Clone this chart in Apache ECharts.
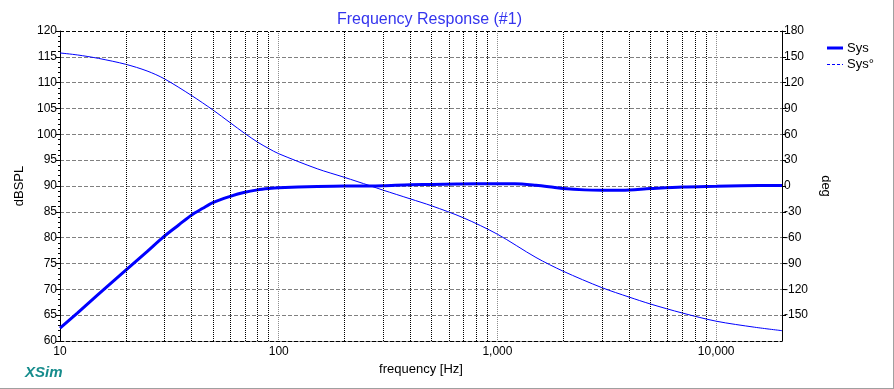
<!DOCTYPE html>
<html>
<head>
<meta charset="utf-8">
<script src="https://cdn.jsdelivr.net/npm/echarts@6/dist/echarts.min.js"></script>
<style>html,body{margin:0;padding:0;background:#fff;}#c{width:894px;height:389px;}</style>
</head>
<body>
<div id="c"></div>
<script>
// Frequencies (Hz)
var splFreq = [10, 12, 15, 20, 25, 30, 35, 40, 45, 50, 60, 70, 80, 90, 100, 150, 200, 260, 300, 400, 500, 650, 800, 1000, 1200, 1500, 1800, 2000, 2500, 3000, 3700, 5000, 7000, 10000, 13000, 20000];
// SPL (dB)
var splValues = [62.5, 65.4, 69.05, 73.7, 77.3, 80.3, 82.5, 84.4, 85.7, 86.8, 88.0, 88.8, 89.25, 89.5, 89.65, 89.9, 90.0, 90.0, 90.05, 90.25, 90.3, 90.4, 90.45, 90.45, 90.45, 90.15, 89.75, 89.5, 89.25, 89.2, 89.2, 89.5, 89.8, 89.95, 90.05, 90.1];
// Phase frequencies (Hz)
var phaseFreq = [10, 12, 15, 20, 25, 30, 40, 50, 60, 70, 80, 90, 100, 150, 200, 260, 300, 400, 500, 700, 1000, 1500, 2000, 3000, 4000, 5000, 7000, 10000, 15000, 20000];
// Phase (deg)
var phaseValues = [154.5, 152.2, 148.2, 141.3, 133.6, 124.5, 105, 88.3, 73.5, 61, 51, 43.5, 37.5, 20, 10, 0.5, -4.8, -15, -23, -37, -56, -83, -99, -118, -129, -137, -147.5, -157, -164, -168];
// Intermediate vertical grid frequencies
var gridFreq = [20, 30, 40, 50, 60, 70, 80, 90, 200, 300, 400, 500, 600, 700, 800, 900, 2000, 3000, 4000, 5000, 6000, 7000, 8000, 9000];
var xTickValues = [10, 100, 1000, 10000];
var seriesNames = ['Sys', 'Sys°'];

var FONT = '"Liberation Sans", Arial, sans-serif';
var chart = echarts.init(document.getElementById('c'));

chart.setOption({
  animation: false,
  backgroundColor: '#ffffff',
  textStyle: { fontFamily: FONT },
  title: {
    text: 'Frequency Response (#1)',
    left: 332, top: 7,
    textStyle: { color: '#3434ee', fontSize: 16, fontWeight: 'normal', fontFamily: FONT }
  },
  grid: { left: 60, right: 112, top: 31, bottom: 48, containLabel: false },
  xAxis: {
    type: 'log', logBase: 10, min: 10, max: 20000,
    name: 'frequency [Hz]', nameLocation: 'middle', nameGap: 20,
    nameTextStyle: { fontSize: 13, color: '#000', fontFamily: FONT },
    axisLine: { show: true, onZero: false, lineStyle: { color: '#000', type: 'dashed', width: 1 } },
    axisTick: { show: false },
    axisLabel: {
      fontSize: 12, color: '#000', margin: 5, showMaxLabel: false,
      formatter: function (v) { return xTickValues.indexOf(Math.round(v)) >= 0 ? Math.round(v).toLocaleString('en-US') : ''; }
    },
    splitLine: { show: true, lineStyle: { color: '#8a8a8a', type: 'dotted', width: 1 } }
  },
  yAxis: [
    {
      type: 'value', min: 60, max: 120, interval: 5, position: 'left',
      name: 'dBSPL', nameLocation: 'middle', nameGap: 28,
      nameTextStyle: { fontSize: 13, color: '#000', fontFamily: FONT },
      axisLine: { show: true, lineStyle: { color: '#000', width: 1 } },
      axisTick: { show: true, length: 4, lineStyle: { color: '#000' } },
      minorTick: { show: true, splitNumber: 5, length: 2, lineStyle: { color: '#000' } },
      axisLabel: { fontSize: 12, color: '#000', margin: 3 },
      splitLine: { show: true, lineStyle: { color: '#808080', type: 'dashed', width: 1 } }
    },
    {
      type: 'value', min: -180, max: 180, interval: 30, position: 'right',
      name: 'deg', nameLocation: 'middle', nameGap: 22, nameRotate: -90,
      nameTextStyle: { fontSize: 13, color: '#000', fontFamily: FONT },
      axisLine: { show: true, lineStyle: { color: '#000', width: 1 } },
      axisTick: { show: true, length: 4, lineStyle: { color: '#000' } },
      axisLabel: { fontSize: 12, color: '#000', margin: 2, showMinLabel: false },
      splitLine: { show: false }
    }
  ],
  series: [
    {
      name: 'grid', type: 'line', data: [], z: 1, silent: true,
      markLine: {
        silent: true, symbol: ['none', 'none'], animation: false,
        label: { show: false },
        lineStyle: { color: '#000', type: 'dotted', width: 1 },
        emphasis: { disabled: true },
        data: gridFreq.map(function (f) { return { xAxis: f }; }).concat([
          { yAxis: 120, lineStyle: { color: '#000', type: 'dashed', width: 1 } }
        ])
      }
    },
    {
      name: seriesNames[0], type: 'line', yAxisIndex: 0, symbol: 'none', smooth: 0.3, z: 3,
      lineStyle: { color: '#0000ff', width: 3 }, itemStyle: { color: '#0000ff' },
      data: splFreq.map(function (f, i) { return [f, splValues[i]]; })
    },
    {
      name: seriesNames[1], type: 'line', yAxisIndex: 1, symbol: 'none', smooth: 0.3, z: 3,
      lineStyle: { color: '#0000ff', width: 1 }, itemStyle: { color: '#0000ff' },
      data: phaseFreq.map(function (f, i) { return [f, phaseValues[i]]; })
    }
  ],
  graphic: [
    { type: 'text', left: 25, top: 365, style: { text: 'XSim', font: 'italic bold 15px ' + FONT, fill: '#168c8c' } },
    { type: 'line', shape: { x1: 0, y1: 388.5, x2: 894, y2: 388.5 }, style: { stroke: '#a0a0a0', lineWidth: 1 } },
    { type: 'line', shape: { x1: 893.5, y1: 0, x2: 893.5, y2: 389 }, style: { stroke: '#a0a0a0', lineWidth: 1 } },
    // legend
    { type: 'line', shape: { x1: 827, y1: 48, x2: 843, y2: 48 }, style: { stroke: '#0000ff', lineWidth: 3 } },
    { type: 'text', x: 847, y: 48, style: { text: seriesNames[0], font: '13px ' + FONT, fill: '#000', verticalAlign: 'middle' } },
    { type: 'line', shape: { x1: 827, y1: 64.5, x2: 843, y2: 64.5 }, style: { stroke: '#0000ff', lineWidth: 1, lineDash: [3, 2] } },
    { type: 'text', x: 847, y: 64, style: { text: seriesNames[1], font: '13px ' + FONT, fill: '#000', verticalAlign: 'middle' } }
  ]
});
</script>
</body>
</html>
